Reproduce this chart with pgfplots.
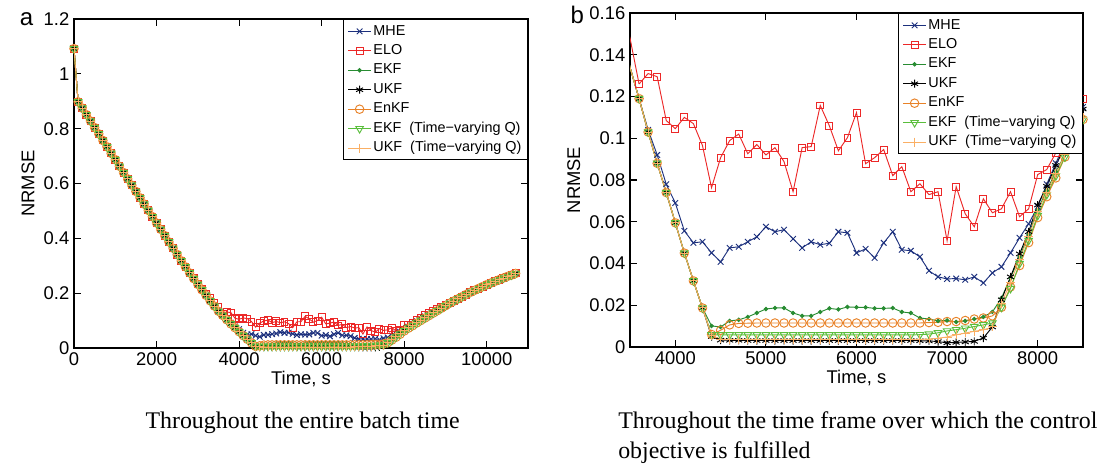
\documentclass[border=0pt]{standalone}
\usepackage{fontspec}
\setmainfont{Liberation Sans}
\newfontfamily\capfont{Liberation Serif}
\usepackage{pgfplots}
\usepackage{pgfplotstable}
\pgfplotsset{compat=1.18}
\definecolor{mhecol}{RGB}{28,48,125}
\definecolor{elocol}{RGB}{236,40,40}
\definecolor{ekfcol}{RGB}{40,140,50}
\definecolor{enkfcol}{RGB}{232,130,40}
\definecolor{ekftvcol}{RGB}{90,190,60}
\definecolor{ukftvcol}{RGB}{250,175,100}

\pgfplotstableread{
t mhe elo ekf ukf enkf ekftv ukftv
0 1.092 1.092 1.092 1.092 1.092 1.092 1.092
100 0.898 0.898 0.898 0.898 0.898 0.898 0.898
200 0.875 0.875 0.875 0.875 0.875 0.875 0.875
300 0.851 0.851 0.851 0.851 0.851 0.851 0.851
400 0.828 0.828 0.828 0.828 0.828 0.828 0.828
500 0.804 0.804 0.804 0.804 0.804 0.804 0.804
600 0.781 0.781 0.781 0.781 0.781 0.781 0.781
700 0.757 0.757 0.757 0.757 0.757 0.757 0.757
800 0.734 0.734 0.734 0.734 0.734 0.734 0.734
900 0.710 0.710 0.710 0.710 0.710 0.710 0.710
1000 0.687 0.687 0.687 0.687 0.687 0.687 0.687
1100 0.663 0.663 0.663 0.663 0.663 0.663 0.663
1200 0.640 0.640 0.640 0.640 0.640 0.640 0.640
1300 0.617 0.617 0.617 0.617 0.617 0.617 0.617
1400 0.594 0.594 0.594 0.594 0.594 0.594 0.594
1500 0.571 0.571 0.571 0.571 0.571 0.571 0.571
1600 0.548 0.548 0.548 0.548 0.548 0.548 0.548
1700 0.525 0.525 0.525 0.525 0.525 0.525 0.525
1800 0.502 0.502 0.502 0.502 0.502 0.502 0.502
1900 0.479 0.479 0.479 0.479 0.479 0.479 0.479
2000 0.456 0.456 0.456 0.456 0.456 0.456 0.456
2100 0.433 0.433 0.433 0.433 0.433 0.433 0.433
2200 0.410 0.410 0.410 0.410 0.410 0.410 0.410
2300 0.387 0.387 0.387 0.387 0.387 0.387 0.387
2400 0.364 0.364 0.364 0.364 0.364 0.364 0.364
2500 0.341 0.341 0.341 0.341 0.341 0.341 0.341
2600 0.318 0.318 0.318 0.318 0.318 0.318 0.318
2700 0.296 0.296 0.296 0.296 0.296 0.296 0.296
2800 0.274 0.274 0.274 0.274 0.274 0.274 0.274
2900 0.253 0.254 0.253 0.253 0.253 0.253 0.253
3000 0.232 0.235 0.232 0.232 0.232 0.232 0.232
3100 0.212 0.217 0.212 0.212 0.212 0.212 0.212
3200 0.192 0.199 0.192 0.192 0.192 0.192 0.192
3300 0.172 0.181 0.172 0.172 0.172 0.172 0.172
3400 0.153 0.164 0.153 0.153 0.153 0.153 0.153
3500 0.134 0.148 0.134 0.134 0.134 0.134 0.134
3600 0.119 0.126 0.119 0.119 0.119 0.119 0.119
3700 0.104 0.131 0.103 0.103 0.103 0.103 0.103
3800 0.092 0.1295 0.088 0.088 0.088 0.088 0.088
3900 0.078 0.1085 0.074 0.074 0.074 0.074 0.074
4000 0.069 0.1046 0.0595 0.0595 0.0595 0.0595 0.0595
4100 0.0556 0.110 0.045 0.045 0.045 0.045 0.045
4200 0.0499 0.107 0.0317 0.0317 0.0317 0.0317 0.0317
4300 0.0504 0.0965 0.0187 0.0187 0.0187 0.0187 0.0187
4400 0.0451 0.0763 0.0101 0.0050 0.0060 0.0058 0.0055
4500 0.0408 0.0907 0.0096 0.0033 0.0080 0.0058 0.0038
4600 0.0475 0.0989 0.0125 0.0032 0.0106 0.0058 0.0037
4700 0.0480 0.1020 0.0130 0.0032 0.0113 0.0058 0.0037
4800 0.0504 0.0926 0.0144 0.0031 0.0114 0.0058 0.0037
4900 0.0528 0.0970 0.0163 0.0031 0.0115 0.0058 0.0037
5000 0.0576 0.0920 0.0182 0.0031 0.0115 0.0058 0.0037
5100 0.0552 0.0955 0.0187 0.0031 0.0115 0.0058 0.0037
5200 0.0562 0.0888 0.0187 0.0031 0.0115 0.0058 0.0037
5300 0.0518 0.0744 0.0163 0.0031 0.0115 0.0058 0.0037
5400 0.0475 0.0955 0.0149 0.0031 0.0115 0.0058 0.0037
5500 0.0504 0.0960 0.0149 0.0031 0.0115 0.0058 0.0037
5600 0.0490 0.1157 0.0168 0.0031 0.0115 0.0058 0.0037
5700 0.0497 0.1060 0.0185 0.0031 0.0115 0.0058 0.0037
5800 0.0552 0.0940 0.0180 0.0031 0.0115 0.0058 0.0037
5900 0.0547 0.1003 0.0192 0.0031 0.0115 0.0058 0.0037
6000 0.0451 0.1123 0.0190 0.0031 0.0115 0.0058 0.0037
6100 0.0470 0.0878 0.0190 0.0031 0.0115 0.0058 0.0037
6200 0.0427 0.0907 0.0185 0.0031 0.0115 0.0058 0.0037
6300 0.0499 0.0946 0.0185 0.0031 0.0115 0.0058 0.0037
6400 0.0552 0.0821 0.0187 0.0031 0.0115 0.0058 0.0037
6500 0.0466 0.0864 0.0168 0.0031 0.0115 0.0058 0.0037
6600 0.0461 0.0744 0.0163 0.0031 0.0115 0.0058 0.0037
6700 0.0432 0.0782 0.0139 0.0030 0.0115 0.0059 0.0037
6800 0.0365 0.0730 0.0134 0.0029 0.0117 0.0062 0.0038
6900 0.0336 0.0744 0.0125 0.0026 0.0118 0.0068 0.0042
7000 0.0326 0.0509 0.0127 0.0020 0.0122 0.0077 0.0048
7100 0.0328 0.0768 0.0120 0.0022 0.0122 0.0083 0.0058
7200 0.0322 0.0638 0.0125 0.0024 0.0127 0.0090 0.0067
7300 0.0336 0.0576 0.0134 0.0027 0.0134 0.0098 0.0075
7400 0.0307 0.0710 0.0144 0.0043 0.0139 0.0106 0.0082
7500 0.0355 0.0643 0.0168 0.0096 0.0149 0.0115 0.0096
7600 0.0384 0.0662 0.0235 0.0226 0.0190 0.0190 0.0210
7700 0.0451 0.0744 0.0331 0.0336 0.0288 0.0280 0.0310
7800 0.0523 0.0624 0.0432 0.0446 0.0390 0.0400 0.0420
7900 0.0590 0.0662 0.0538 0.0552 0.0500 0.0510 0.0530
8000 0.0672 0.0826 0.0658 0.0680 0.0620 0.0630 0.0650
8100 0.0780 0.0850 0.0750 0.0770 0.0720 0.0730 0.0740
8200 0.0880 0.0930 0.0840 0.0870 0.0810 0.0820 0.0830
8300 0.0980 0.1010 0.0920 0.0960 0.0910 0.0910 0.0920
8400 0.1070 0.1100 0.1010 0.1050 0.1000 0.1000 0.1010
8500 0.1150 0.1190 0.1100 0.1140 0.1090 0.1090 0.1100
8600 0.123 0.127 0.119 0.122 0.118 0.118 0.119
8700 0.131 0.135 0.128 0.130 0.127 0.127 0.128
8800 0.139 0.143 0.137 0.138 0.136 0.136 0.137
8900 0.147 0.150 0.146 0.147 0.145 0.145 0.146
9000 0.155 0.157 0.155 0.155 0.154 0.154 0.155
9100 0.163 0.164 0.163 0.163 0.163 0.163 0.163
9200 0.171 0.171 0.171 0.171 0.171 0.171 0.171
9300 0.179 0.179 0.179 0.179 0.179 0.179 0.179
9400 0.187 0.187 0.187 0.187 0.187 0.187 0.187
9500 0.195 0.195 0.195 0.195 0.195 0.195 0.195
9600 0.203 0.203 0.203 0.203 0.203 0.203 0.203
9700 0.210 0.210 0.210 0.210 0.210 0.210 0.210
9800 0.217 0.217 0.217 0.217 0.217 0.217 0.217
9900 0.224 0.224 0.224 0.224 0.224 0.224 0.224
10000 0.231 0.231 0.231 0.231 0.231 0.231 0.231
10100 0.237 0.237 0.237 0.237 0.237 0.237 0.237
10200 0.243 0.243 0.243 0.243 0.243 0.243 0.243
10300 0.249 0.249 0.249 0.249 0.249 0.249 0.249
10400 0.255 0.255 0.255 0.255 0.255 0.255 0.255
10500 0.261 0.261 0.261 0.261 0.261 0.261 0.261
10600 0.266 0.266 0.266 0.266 0.266 0.266 0.266
10700 0.272 0.272 0.272 0.272 0.272 0.272 0.272
}\datatab

\pgfplotsset{
  myaxis/.style={
    scale only axis,
    axis line style={line width=1.1pt},
    every tick/.style={black, line width=0.8pt},
    tick align=inside,
    major tick length=5pt,
    tick label style={font=\fontsize{13.8}{15}\selectfont},
    label style={font=\fontsize{13.8}{15}\selectfont},
    xlabel style={yshift=3pt},
    /pgf/number format/assume math mode=true,
    /pgf/number format/fixed,
    /pgf/number format/1000 sep={},
    scaled x ticks=false, scaled y ticks=false,
    xlabel={Time, s}, ylabel={NRMSE},
    legend cell align=left,
    legend style={at={(1,1)}, anchor=north east, draw=black, line width=1pt,
      font=\fontsize{10.8}{12}\selectfont, row sep=1.1pt,
      nodes={inner sep=1.5pt, text height=8pt, text depth=2.5pt}},
  },
  every axis plot/.append style={line width=0.7pt},
  smhe/.style={color=mhecol, mark=x, mark size=3pt},
  selo/.style={color=elocol, mark=square, mark size=2.6pt},
  sekf/.style={color=ekfcol, mark=*, mark size=1.3pt},
  sukf/.style={color=black, mark=asterisk, mark size=3pt},
  senkf/.style={color=enkfcol, mark=o, mark size=3.2pt},
  sekftv/.style={color=ekftvcol, mark=triangle, mark options={rotate=180}, mark size=3.3pt},
  sukftv/.style={color=ukftvcol, mark=+, mark size=3.3pt},
  stub/.style={mark=none, forget plot, restrict x to domain=3400:3600},
  late/.style={skip coords between index={0}{36}},
}

\begin{document}
\begin{tikzpicture}
\useasboundingbox (0,0) rectangle (825.75pt,-348pt);
\begin{axis}[myaxis, at={(55.5pt,-261pt)}, anchor=south west,
  width=340.5pt, height=246.75pt,
  xmin=0, xmax=11000, ymin=0, ymax=1.2,
  xtick={0,2000,...,10000}, ytick={0,0.2,...,1.2}]
\addplot[smhe] table[x=t,y=mhe] {\datatab}; \addlegendentry{MHE}
\addplot[selo] table[x=t,y=elo] {\datatab}; \addlegendentry{ELO}
\addplot[sekf] table[x=t,y=ekf] {\datatab}; \addlegendentry{EKF}
\addplot[sukf] table[x=t,y=ukf] {\datatab}; \addlegendentry{UKF}
\addplot[senkf] table[x=t,y=enkf] {\datatab}; \addlegendentry{EnKF}
\addplot[sekftv] table[x=t,y=ekftv] {\datatab}; \addlegendentry{EKF\ \ (Time−varying Q)}
\addplot[sukftv] table[x=t,y=ukftv] {\datatab}; \addlegendentry{UKF\ \ (Time−varying Q)}
\end{axis}
\begin{axis}[myaxis, at={(472.5pt,-260.25pt)}, anchor=south west,
  width=339.75pt, height=250.5pt,
  xmin=3500, xmax=8500, ymin=0, ymax=0.16,
  xtick={4000,5000,...,8000}, ytick={0,0.02,...,0.16}]
\addplot[smhe, stub] table[x=t,y=mhe] {\datatab};
\addplot[selo, stub] table[x=t,y=elo] {\datatab};
\addplot[sekf, stub] table[x=t,y=ekf] {\datatab};
\addplot[sukf, stub] table[x=t,y=ukf] {\datatab};
\addplot[senkf, stub] table[x=t,y=enkf] {\datatab};
\addplot[sekftv, stub] table[x=t,y=ekftv] {\datatab};
\addplot[sukftv, stub] table[x=t,y=ukftv] {\datatab};
\addplot[smhe, late] table[x=t,y=mhe] {\datatab}; \addlegendentry{MHE}
\addplot[selo, late] table[x=t,y=elo] {\datatab}; \addlegendentry{ELO}
\addplot[sekf, late] table[x=t,y=ekf] {\datatab}; \addlegendentry{EKF}
\addplot[sukf, late] table[x=t,y=ukf] {\datatab}; \addlegendentry{UKF}
\addplot[senkf, late] table[x=t,y=enkf] {\datatab}; \addlegendentry{EnKF}
\addplot[sekftv, late] table[x=t,y=ekftv] {\datatab}; \addlegendentry{EKF\ \ (Time−varying Q)}
\addplot[sukftv, late] table[x=t,y=ukftv] {\datatab}; \addlegendentry{UKF\ \ (Time−varying Q)}
\end{axis}
\node[anchor=base, font=\fontsize{18}{20}\selectfont] at (20pt,-19.5pt) {a};
\node[anchor=base, font=\fontsize{18}{20}\selectfont] at (433pt,-17.3pt) {b};
\node[anchor=base, font=\capfont\fontsize{17.9}{20}\selectfont] at (227pt,-321pt) {Throughout the entire batch time};
\node[anchor=base west, inner sep=0pt, font=\capfont\fontsize{17.9}{20}\selectfont] at (463.5pt,-321pt) {Throughout the time frame over which the control};
\node[anchor=base west, inner sep=0pt, font=\capfont\fontsize{17.9}{20}\selectfont] at (463.5pt,-343.5pt) {objective is fulfilled};
\end{tikzpicture}
\end{document}
